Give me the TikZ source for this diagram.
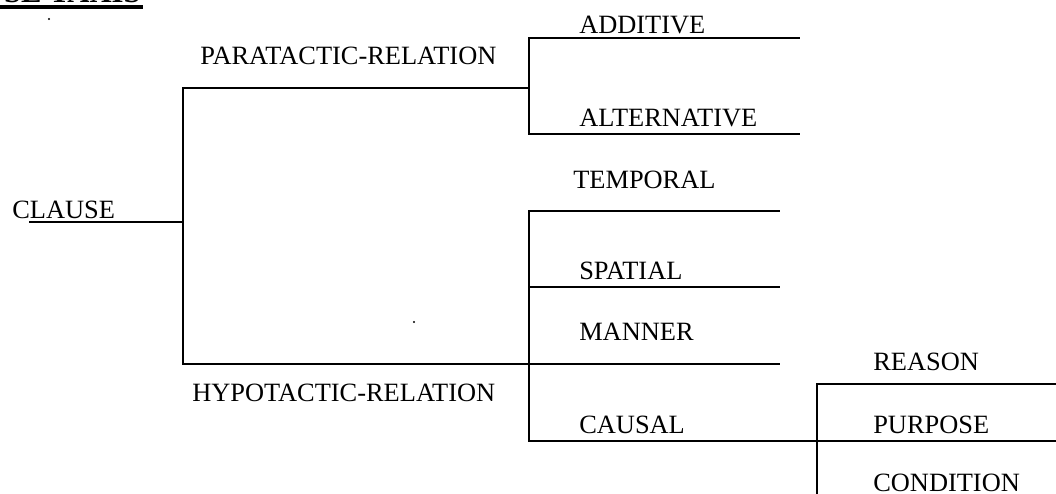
\documentclass[tikz,border=0pt]{standalone}
\usepackage{fontspec}
\setmainfont{Liberation Serif}
\begin{document}
\begin{tikzpicture}[
  x=0.75pt, y=-0.75pt,
  branch/.style={line width=1.4pt, line cap=rect},
  lbl/.style={anchor=base west, inner sep=0pt, font=\fontsize{19.8pt}{24pt}\selectfont},
  head/.style={anchor=base east, inner sep=0pt, font=\fontsize{23pt}{28pt}\selectfont\bfseries},
  speck/.style={fill=black, draw=none}
]
\useasboundingbox (0,0) rectangle (1056,493);
\clip (0,0) rectangle (1056,493);

% heading with its heavy underline
\node[head] (title) at (141,2.6) {SE TAXIS};
\fill (0,5) rectangle (143,8.7);

% labels
\node[lbl] (clause) at (12,218) {CLAUSE};
\node[lbl] (para)   at (200,64) {PARATACTIC-RELATION};
\node[lbl] (hypo)   at (192,401) {HYPOTACTIC-RELATION};
\node[lbl] (add)    at (579,33) {ADDITIVE};
\node[lbl] (alt)    at (579,126) {ALTERNATIVE};
\node[lbl] (temp)   at (573,188) {TEMPORAL};
\node[lbl] (spat)   at (579,279) {SPATIAL};
\node[lbl] (mann)   at (579,340) {MANNER};
\node[lbl] (caus)   at (579,433) {CAUSAL};
\node[lbl] (reas)   at (873,370) {REASON};
\node[lbl] (purp)   at (873,433) {PURPOSE};
\node[lbl] (cond)   at (873,491.5) {CONDITION};

% junction points of the tree
\coordinate (c0) at (30,222);
\coordinate (c1) at (183,222);
\coordinate (r0) at (183,88);
\coordinate (r1) at (183,364);
\coordinate (p0) at (529,88);
\coordinate (pt) at (529,38);
\coordinate (pb) at (529,134);
\coordinate (pte) at (799,38);
\coordinate (pbe) at (799,134);
\coordinate (h0) at (529,364);
\coordinate (ht) at (529,211);
\coordinate (hs) at (529,287);
\coordinate (hb) at (529,441);
\coordinate (hte) at (779,211);
\coordinate (hse) at (779,287);
\coordinate (hme) at (779,364);
\coordinate (q0) at (817,441);
\coordinate (qt) at (817,384);
\coordinate (qb) at (817,493);
\coordinate (qte) at (1056,384);
\coordinate (hbe) at (1056,441);

% CLAUSE
\draw[branch] (c0) -- (c1);
\draw[branch] (r0) -- (r1);
% paratactic branch
\draw[branch] (r0) -- (p0);
\draw[branch] (pt) -- (pb);
\draw[branch] (pt) -- (pte);
\draw[branch] (pb) -- (pbe);
% hypotactic branch
\draw[branch] (r1) -- (h0);
\draw[branch] (ht) -- (hb);
\draw[branch] (ht) -- (hte);
\draw[branch] (hs) -- (hse);
\draw[branch] (h0) -- (hme);
\draw[branch] (hb) -- (hbe);
% causal sub-branch
\draw[branch] (qt) -- (qb);
\draw[branch] (qt) -- (qte);

% stray specks
\fill[speck] (49,19) circle (1.2);
\fill[speck] (414,322) circle (1.2);
\end{tikzpicture}
\end{document}
